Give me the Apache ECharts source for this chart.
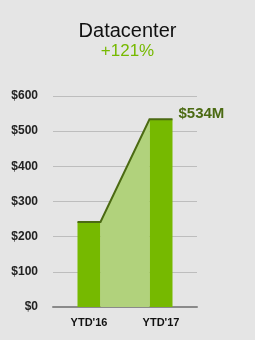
<!DOCTYPE html>
<html>
<head>
    <meta charset="utf-8">
    <title>Datacenter</title>
    <script src="https://cdn.jsdelivr.net/npm/echarts@6/dist/echarts.min.js"></script>
    <style>
        html, body { margin: 0; padding: 0; background: #e5e5e5; }
        #chart1 { width: 255px; height: 340px; }
    </style>
</head>
<body>
<div id="chart1"></div>
<script type="text/javascript">
    // data
    var categories = ["YTD'16", "YTD'17"];
    var revenue = [242, 534];
    var growthText = '+121%';
    var lastLabel = '$534M';

    var barWidth = 23;
    var font = '"Liberation Sans", Arial, sans-serif';

    var myChart1 = echarts.init(document.getElementById('chart1'));

    // light area between the two bars plus the dark outline on top
    function renderBridge(params, api) {
        var half = barWidth / 2;
        var p1 = api.coord([0, revenue[0]]);
        var p2 = api.coord([1, revenue[1]]);
        var base = api.coord([0, 0])[1];
        return {
            type: 'group',
            children: [{
                type: 'polygon',
                shape: {
                    points: [[p1[0] + half, p1[1]], [p2[0] - half, p2[1]], [p2[0] - half, base], [p1[0] + half, base]]
                },
                style: { fill: '#b1d27c' }
            }, {
                type: 'polyline',
                shape: {
                    points: [[p1[0] - half, p1[1]], [p1[0] + half, p1[1]], [p2[0] - half, p2[1]], [p2[0] + half, p2[1]]]
                },
                style: { stroke: '#4b6a12', lineWidth: 2, fill: null }
            }]
        };
    }

    var options = {
        backgroundColor: '#e5e5e5',
        animation: false,
        title: {
            text: 'Datacenter',
            subtext: growthText,
            left: 'center',
            top: 16,
            itemGap: 2,
            textStyle: { color: '#111', fontSize: 20, fontWeight: 'normal', fontFamily: font },
            subtextStyle: { color: '#76b900', fontSize: 17, fontFamily: font }
        },
        grid: { left: 53, right: 58, top: 96, bottom: 33 },
        xAxis: {
            type: 'category',
            data: categories,
            axisLine: { lineStyle: { color: '#8a8a8a', width: 2 } },
            axisTick: { show: false },
            axisLabel: { color: '#111', fontSize: 11, fontWeight: 'bold', fontFamily: font, margin: 10 }
        },
        yAxis: {
            type: 'value',
            min: 0,
            max: 600,
            interval: 100,
            axisLine: { show: false },
            axisTick: { show: false },
            splitLine: { lineStyle: { color: '#bdbdbd', width: 1 } },
            axisLabel: {
                color: '#222', fontSize: 12, fontWeight: 'bold', fontFamily: font, margin: 15,
                formatter: function (v) { return '$' + v; }
            }
        },
        series: [{
            name: 'Datacenter',
            type: 'bar',
            barWidth: barWidth,
            z: 2,
            itemStyle: { color: '#76b900' },
            data: revenue.map(function (v, i) {
                var item = { value: v };
                if (i === revenue.length - 1) {
                    item.label = {
                        show: true,
                        position: [29, -5],
                        align: 'left',
                        verticalAlign: 'middle',
                        formatter: lastLabel,
                        color: '#4b6a12',
                        fontSize: 15,
                        fontWeight: 'bold',
                        fontFamily: font
                    };
                }
                return item;
            })
        }, {
            type: 'custom',
            z: 3,
            renderItem: renderBridge,
            data: [[0, revenue[0]]],
            silent: true
        }]
    };
    myChart1.setOption(options);
</script>
</body>
</html>
